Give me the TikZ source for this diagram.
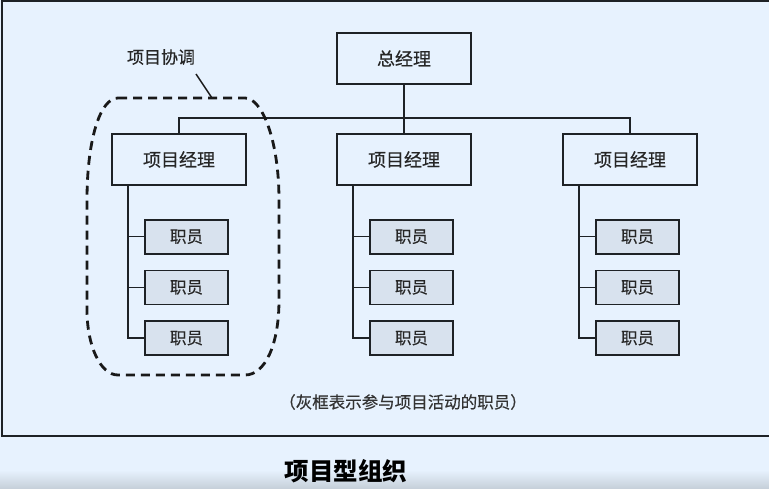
\documentclass[tikz,border=0pt]{standalone}
\usepackage{fontspec}
\setmainfont{Noto Sans CJK SC}
\newfontfamily\boxfont[FakeBold=0.5]{Noto Sans CJK SC}
\usepackage{xcolor}
\usetikzlibrary{positioning,fit}

\definecolor{paper}{HTML}{E7F2FE}
\definecolor{staffgray}{HTML}{D8E2EE}
\definecolor{inkline}{HTML}{1E2226}

\begin{document}
\begin{tikzpicture}[
    x=1pt, y=-1pt,
    font=\boxfont\fontsize{16.5}{18}\selectfont,
    % --- manager boxes (general + project) ---
    mgr/.style={draw=inkline, line width=1.7pt, fill=paper, minimum width=134pt,
                minimum height=51pt, inner sep=0pt, text=black!85,
                font=\boxfont\fontsize{18}{19}\selectfont},
    % --- grey staff box ---
    staff/.style={draw=inkline, line width=1.7pt, fill=staffgray, minimum width=83pt,
                  minimum height=34pt, inner sep=0pt, text=black!85,
                  font=\boxfont\fontsize{16.5}{18}\selectfont},
    % --- plain tree lines ---
    link/.style={inkline, line width=1.4pt},
    % --- the coordination boundary ---
    coord/.style={draw=black!90, line width=2.8pt, dash pattern=on 9pt off 6pt},
  ]

  % ---- page and frame ----------------------------------------------------
  \useasboundingbox (0,0) rectangle (769,488);
  \fill[paper] (0,0) rectangle (769,488);
  \shade[top color=paper, bottom color=black!14!paper] (0,470) rectangle (769,488);
  \draw[inkline, line width=1.6pt, fill=paper] (2,1) rectangle (775,436);

  % ---- GENERAL MANAGER ---------------------------------------------------
  \node[mgr] (gm) at (404,58.5) {总经理};

  % ---- PROJECT MANAGERS --------------------------------------------------
  \node[mgr] (pm1) at (179,159.5) {项目经理};
  \node[mgr] (pm2) at (404,159.5) {项目经理};
  \node[mgr] (pm3) at (630,159.5) {项目经理};

  \coordinate (bus) at (0,118);
  \draw[link] (gm.south) -- (pm2.north);
  \draw[link] (pm1.north) -- (pm1.north |- bus) -- (pm3.north |- bus) -- (pm3.north);

  % ---- STAFF under each project manager ---------------------------------
  \node[staff, anchor=north west] (s11) at ([xshift=33pt,yshift=-33pt]pm1.south west) {职员};
  \node[staff, below=15pt of s11] (s12) {职员};
  \node[staff, below=15pt of s12] (s13) {职员};

  \node[staff, anchor=north west] (s21) at ([xshift=33pt,yshift=-33pt]pm2.south west) {职员};
  \node[staff, below=15pt of s21] (s22) {职员};
  \node[staff, below=15pt of s22] (s23) {职员};

  \node[staff, anchor=north west] (s31) at ([xshift=33pt,yshift=-33pt]pm3.south west) {职员};
  \node[staff, below=15pt of s31] (s32) {职员};
  \node[staff, below=15pt of s32] (s33) {职员};

  % trunk lines from each manager to its staff
  \coordinate (t1) at ([xshift=17pt]pm1.south west);
  \coordinate (t2) at ([xshift=17pt]pm2.south west);
  \coordinate (t3) at ([xshift=17pt]pm3.south west);
  \draw[link] (t1) |- (s13.west);
  \draw[link] (t1 |- s11.west) -- (s11.west);
  \draw[link] (t1 |- s12.west) -- (s12.west);
  \draw[link] (t2) |- (s23.west);
  \draw[link] (t2 |- s21.west) -- (s21.west);
  \draw[link] (t2 |- s22.west) -- (s22.west);
  \draw[link] (t3) |- (s33.west);
  \draw[link] (t3 |- s31.west) -- (s31.west);
  \draw[link] (t3 |- s32.west) -- (s32.west);

  % ---- PROJECT COORDINATION (dashed group) ------------------------------
  \draw[coord] (118,98) -- (245,98)
        .. controls (262,98) and (279,140) .. (279,200) -- (279,300)
        .. controls (279,345) and (265,375) .. (245,375) -- (118,375)
        .. controls (100,375) and (87,345) .. (87,310) -- (87,200)
        .. controls (87,140) and (100,98) .. (118,98) -- cycle;
  \node[text=black!85, font=\boxfont\fontsize{17}{18}\selectfont] (coordlbl)
        at (161,57) {项目协调};
  \coordinate (ptrA) at (196,74);
  \coordinate (ptrB) at (212,98);
  \draw[black!90, line width=1.4pt] (ptrA) -- (ptrB);

  % ---- note + title ------------------------------------------------------
  \node[text=black!80] (note) at (403,402) {（灰框表示参与项目活动的职员）};
  \node[font=\fontsize{24.5}{26}\selectfont\bfseries, text=black] (title) at (346,471)
        {项目型组织};

\end{tikzpicture}
\end{document}
